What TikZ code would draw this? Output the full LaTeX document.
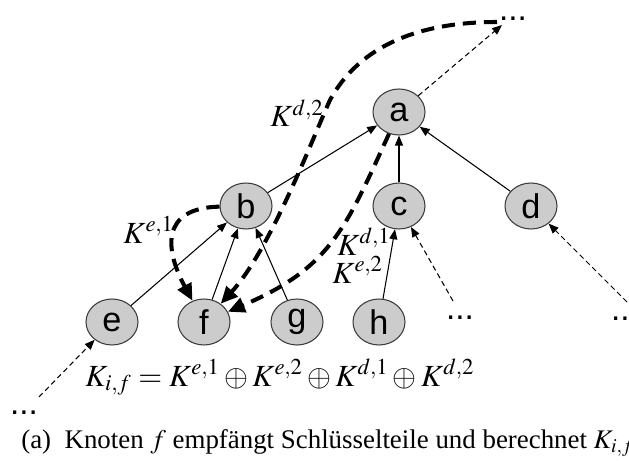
\documentclass[tikz,border=0pt]{standalone}
\usepackage{mathptmx}
\usepackage{fontspec}
\setmainfont{Liberation Serif}
\newfontfamily\nodefont{Liberation Sans}
\usetikzlibrary{arrows.meta, shapes.geometric}
\definecolor{nodegray}{RGB}{204, 204, 204}
\definecolor{edgegray}{RGB}{60, 60, 60}

\begin{document}
\begin{tikzpicture}[
  knot/.style={ellipse, draw=edgegray, fill=nodegray, line width=0.6pt, minimum width=1.04cm, minimum height=0.92cm, inner sep=0pt, font=\nodefont\fontsize{19.5}{22}\selectfont},
  more/.style={inner sep=0pt, anchor=base, text height=1mm, text depth=0pt, font=\nodefont\fontsize{19}{22}\selectfont},
  keylabel/.style={inner sep=0pt, anchor=base west, font=\fontsize{17.5}{20}\selectfont},
  link/.style={-{Triangle[length=2mm, width=1.6mm]}, line width=0.6pt},
  farlink/.style={link, dash pattern=on 3pt off 2pt},
  keyarrow/.style={-{Triangle[length=3.4mm, width=3mm]}, line width=2.3pt, dash pattern=on 7.5pt off 4.5pt}
]
\useasboundingbox (0, 0) rectangle (12.58, 9.2);

% Tree of nodes
\node[knot] (a) at (7.98, 6.96) {a};
\node[knot] (b) at (4.92, 5.08) {b};
\node[knot] (c) at (7.98, 5.08) {c};
\node[knot] (d) at (10.62, 5.08) {d};
\node[knot] (e) at (2.24, 2.76) {e};
\node[knot] (f) at (4.08, 2.76) {f};
\node[knot] (g) at (5.94, 2.76) {g};
\node[knot] (h) at (7.58, 2.76) {h};

% Rest of the tree
\node[more] (topDots) at (10.26, 8.78) {...};
\node[more] (cDots) at (9.2, 2.82) {...};
\node[more] (dDots) at (12.5, 2.80) {...};
\node[more] (eDots) at (0.48, 0.92) {...};

\coordinate (topTip) at (10.04, 8.7);
\coordinate (cStart) at (9.06, 3.18);
\coordinate (dStart) at (12.54, 3.16);
\coordinate (eStart) at (0.78, 1.26);

\draw[link] (e) -- (b);
\draw[link] (f) -- (b);
\draw[link] (g) -- (b);
\draw[link] (h) -- (c);
\draw[link] (b) -- (a);
\draw[link] (c) -- (a);
\draw[link] (d) -- (a);

\draw[farlink] (a) -- (topTip);
\draw[farlink] (cStart) -- (c);
\draw[farlink] (dStart) -- (d);
\draw[farlink] (eStart) -- (e);

% Key parts sent to f
\coordinate (kdStart) at (9.94, 8.76);
\draw[keyarrow] (kdStart) .. controls (8.4, 8.76) and (7.2, 8.3) .. (6.6, 7.2)
  .. controls (6.24, 6.4) and (5.4, 4.2) .. (f);
\draw[keyarrow] (a) .. controls (6.9, 4.6) and (6.6, 3.84) .. (f);
\draw[keyarrow] (b) .. controls (3.2, 5.04) and (3.3, 4.2) .. (f);

\node[keylabel] (kd2) at (5.4, 6.66) {$K^{d,2}$};
\node[keylabel] (ke1) at (2.46, 4.34) {$K^{e,1}$};
\node[keylabel] (kd1) at (6.74, 4.1) {$K^{d,1}$};
\node[keylabel] (ke2) at (6.64, 3.54) {$K^{e,2}$};

% Result and caption
\node[keylabel] (sum) at (1.7, 1.48) {$K_{i,f} = K^{e,1} \oplus K^{e,2} \oplus K^{d,1} \oplus K^{d,2}$};
\node[anchor=base west, inner sep=0pt, font=\fontsize{15.3}{17}\selectfont] (caption) at (0.42, 0.24) {(a)\enspace Knoten $f$ empfängt Schlüsselteile und berechnet $K_{i,f}$};

\end{tikzpicture}
\end{document}
